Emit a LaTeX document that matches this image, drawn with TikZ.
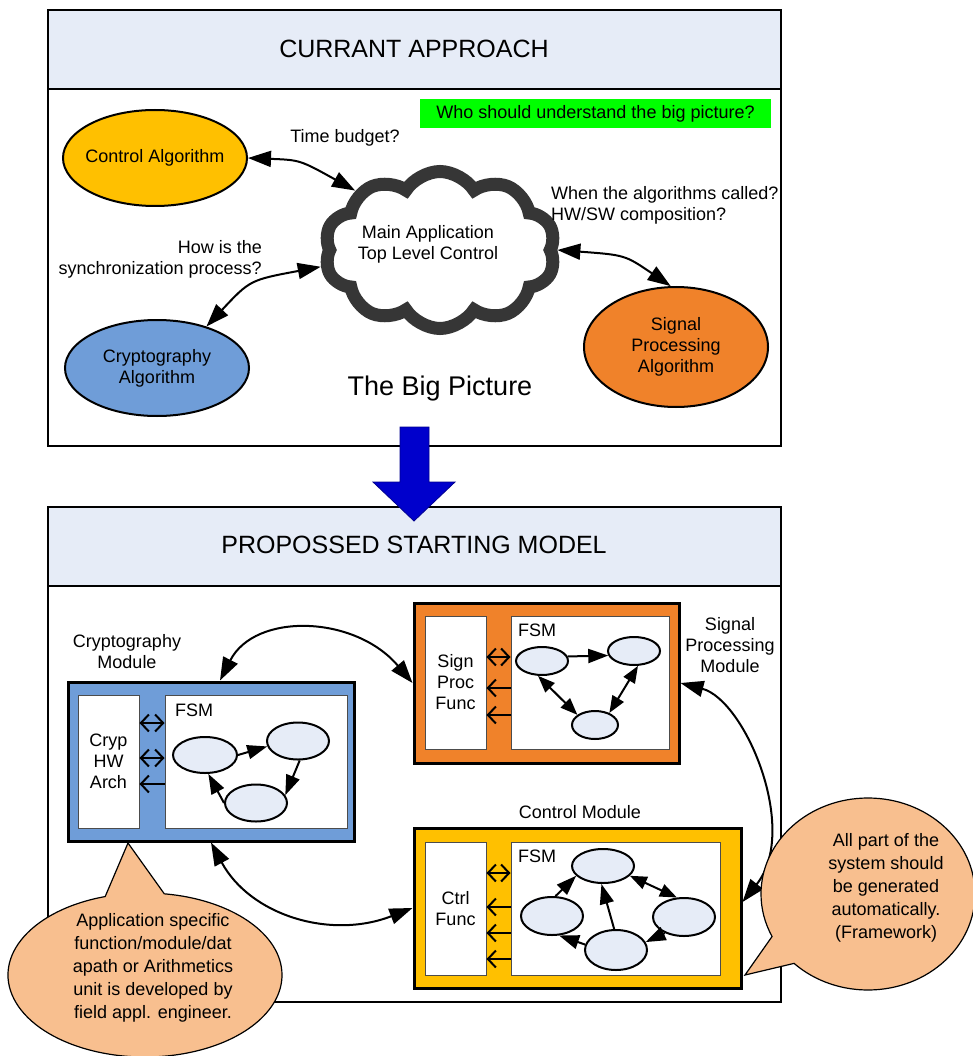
\documentclass[tikz,border=0pt]{standalone}
\usepackage{fontspec}
\setmainfont{Liberation Sans}
\usetikzlibrary{shapes.geometric,shapes.symbols,shapes.callouts,arrows.meta}
\definecolor{hdrblue}{HTML}{E6ECF7}
\definecolor{gold}{HTML}{FFC000}
\definecolor{sigorange}{HTML}{F0822A}
\definecolor{cryblue}{HTML}{6F9DD8}
\definecolor{callfill}{HTML}{F8BF8F}
\definecolor{cloudgray}{HTML}{363636}
\definecolor{bigblue}{HTML}{0000CC}
\definecolor{hiGreen}{HTML}{00FF00}
\tikzset{
 txt/.style={inner sep=0pt, align=center},
 algo/.style={ellipse, draw, line width=2pt, minimum width=184pt, minimum height=96pt, inner sep=0pt, align=center},
 panel/.style={draw, line width=2pt},
 bi/.style={line width=2pt, >={Triangle[length=23pt,width=16pt]}, <->},
 modbox/.style={draw, line width=3pt, inner sep=0pt},
 whitebox/.style={draw=black!70, fill=white, line width=1pt, inner sep=0pt, align=center},
 st/.style={ellipse, draw, line width=2pt, fill=hdrblue, inner sep=0pt},
 wbi/.style={line width=2pt, >={Straight Barb[length=8pt,width=17pt]}, <->},
 wl/.style={line width=2pt, >={Straight Barb[length=8pt,width=17pt]}, ->},
 fsmarr/.style={line width=2pt, >={Triangle[length=20pt,width=14pt]}, ->},
 fsmbi/.style={line width=2pt, >={Triangle[length=17pt,width=13pt]}, <->},
 bubble/.style={ellipse callout, draw, line width=1.2pt, fill=callfill, inner sep=0pt},
}
\begin{document}
\begin{tikzpicture}[x=1pt,y=-1pt, font=\fontsize{18}{21}\selectfont]
\useasboundingbox (0,0) rectangle (973,1056);
% ---------- top panel
\fill[hdrblue] (48,10) rectangle (781,89);
\draw[panel] (48,10) rectangle (781,446);
\draw[panel] (48,89) -- (781,89);
\node[txt, font=\fontsize{25}{28}\selectfont] (t1) at (414,49) {CURRANT APPROACH};
\node[fill=hiGreen, minimum width=351pt, minimum height=29pt, inner sep=0pt] (q) at (595.5,113.5) {Who should understand the big picture?};

\node[algo, fill=gold, inner xsep=-8pt] (ctrl) at (155,158) {Control Algorithm};
\node[algo, fill=cryblue] (crypt) at (157,368) {Cryptography\\Algorithm};
\node[algo, fill=sigorange, minimum height=120pt] (sig) at (676,347) {Signal\\Processing\\Algorithm};

\node[cloud, cloud puffs=10, cloud puff arc=115, draw=cloudgray, line width=13pt, minimum width=231pt, minimum height=157pt, inner sep=0pt, fill=white] (cloud) at (440,250) {};
\node[txt] (cloudtxt) at (428,244) {Main Application\\Top Level Control};

\node[txt] (tb) at (345,138) {Time budget?};
\node[txt, anchor=west, align=left] (when) at (551,205) {When the algorithms called?\\HW/SW composition?};
\node[txt, anchor=east, align=right] (how) at (262,259) {How is the\\synchronization process?};
\node[txt, font=\fontsize{27}{30}\selectfont] (bp) at (440,389) {The Big Picture};

\draw[bi] (ctrl.east) .. controls (300,160) .. (cloud.145);
\draw[bi] (crypt.40) .. controls (250,280) .. (cloud.188);
\draw[bi] (cloud.0) .. controls (625,255) .. (sig.95);

% ---------- bottom panel
\fill[hdrblue] (48,507) rectangle (781,586);
\draw[panel] (48,507) rectangle (781,1002);
\draw[panel] (48,586) -- (781,586);
\node[txt, font=\fontsize{25}{28}\selectfont] (t2) at (414,545) {PROPOSSED STARTING MODEL};

% big blue arrow
\draw[fill=bigblue, draw=bigblue!70!black, line width=0.8pt] (400,427) -- (429,427) -- (429,482) -- (455,482) -- (414,521) -- (373,482) -- (400,482) -- cycle;

% crypto module
\node[modbox, fill=cryblue, minimum width=286pt, minimum height=159pt] (cmod) at (211,761.5) {};
\node[whitebox, minimum width=61pt, minimum height=133pt] (cfun) at (108.5,761.5) {Cryp\\HW\\Arch};
\node[whitebox, minimum width=182pt, minimum height=133pt] (cfsm) at (256,761.5) {};
\node[txt, anchor=west] (cfsml) at (175,710) {FSM};
\node[st, minimum width=64pt, minimum height=36pt] (c1) at (205,755) {};
\node[st, minimum width=62pt, minimum height=37pt] (c2) at (298,741) {};
\node[st, minimum width=62pt, minimum height=37pt] (c3) at (256,803) {};
\draw[fsmarr] (c1.0) -- (c2.190);
\draw[fsmarr] (c2.275) -- (c3.15);
\draw[fsmarr] (c3.180) -- (c1.280);
\draw[wbi] (cfun.east |- 0,723) -- (cfsm.west |- 0,723);
\draw[wbi] (cfun.east |- 0,758) -- (cfsm.west |- 0,758);
\draw[wl] (cfsm.west |- 0,784) -- (cfun.east |- 0,784);
\node[txt] (cmodl) at (127,652) {Cryptography\\Module};

% signal module
\node[modbox, fill=sigorange, minimum width=265pt, minimum height=160pt] (smod) at (546.5,683) {};
\node[whitebox, minimum width=61pt, minimum height=133pt] (sfun) at (455.5,682.5) {Sign\\Proc\\Func};
\node[whitebox, minimum width=158pt, minimum height=133pt] (sfsm) at (590,682.5) {};
\node[txt, anchor=west] (sfsml) at (518,630) {FSM};
\node[st, minimum width=52pt, minimum height=28pt] (s1) at (542,661) {};
\node[st, minimum width=52pt, minimum height=28pt] (s2) at (634,651) {};
\node[st, minimum width=46pt, minimum height=28pt] (s3) at (595,725) {};
\draw[fsmarr] (s1.10) -- (s2.190);
\draw[fsmbi] (s1.255) -- (s3.150);
\draw[fsmbi] (s3.40) -- (s2.285);
\draw[wbi] (sfun.east |- 0,657) -- (sfsm.west |- 0,657);
\draw[wl] (sfsm.west |- 0,688) -- (sfun.east |- 0,688);
\draw[wl] (sfsm.west |- 0,715) -- (sfun.east |- 0,715);
\node[txt] (smodl) at (730,645) {Signal\\Processing\\Module};

% control module
\node[modbox, fill=gold, minimum width=327pt, minimum height=160pt] (kmod) at (577.5,908) {};
\node[whitebox, minimum width=61pt, minimum height=133pt] (kfun) at (455.5,908.5) {Ctrl\\Func};
\node[whitebox, minimum width=209pt, minimum height=133pt] (kfsm) at (615.5,908.5) {};
\node[txt, anchor=west] (kfsml) at (518,856) {FSM};
\node[st, minimum width=62pt, minimum height=34pt] (k1) at (603,866) {};
\node[st, minimum width=62pt, minimum height=38pt] (k2) at (552,916) {};
\node[st, minimum width=62pt, minimum height=38pt] (k3) at (684,917) {};
\node[st, minimum width=62pt, minimum height=40pt] (k4) at (616,950) {};
\draw[fsmarr] (k2.80) -- (k1.200);
\draw[fsmarr] (k4.95) -- (k1.265);
\draw[fsmbi] (k1.340) -- (k3.110);
\draw[fsmarr] (k3.220) -- (k4.15);
\draw[fsmarr] (k4.170) -- (k2.290);
\draw[wbi] (kfun.east |- 0,873) -- (kfsm.west |- 0,873);
\draw[wl] (kfsm.west |- 0,907) -- (kfun.east |- 0,907);
\draw[wl] (kfsm.west |- 0,933) -- (kfun.east |- 0,933);
\draw[wl] (kfsm.west |- 0,959) -- (kfun.east |- 0,959);
\node[txt] (kmodl) at (580,812) {Control Module};

% module connectors
\draw[bi] ([xshift=9pt]cmod.north) .. controls (255,612) and (355,615) .. (smod.west);
\draw[bi] (cmod.south) .. controls (250,915) and (330,940) .. (kmod.west);
\draw[bi] (smod.east) .. controls (745,700) and (800,830) .. ([yshift=6pt]kmod.east);

% callouts
\node[bubble, minimum width=274pt, minimum height=164pt, callout absolute pointer={(128,843)}, callout pointer arc=25] (cb1) at (145,975) {};
\node[txt, font=\fontsize{18}{23}\selectfont] (cb1t) at (153,968) {Application specific\\function/module/dat\\apath or Arithmetics\\unit is developed by\\field appl. engineer.};
\node[bubble, minimum width=214pt, minimum height=192pt, callout absolute pointer={(745,975)}, callout pointer arc=20] (cb2) at (868,894) {};
\node[txt, font=\fontsize{18}{23}\selectfont] (cb2t) at (886,888) {All part of the\\system should\\be generated\\automatically.\\(Framework)};
\end{tikzpicture}
\end{document}
